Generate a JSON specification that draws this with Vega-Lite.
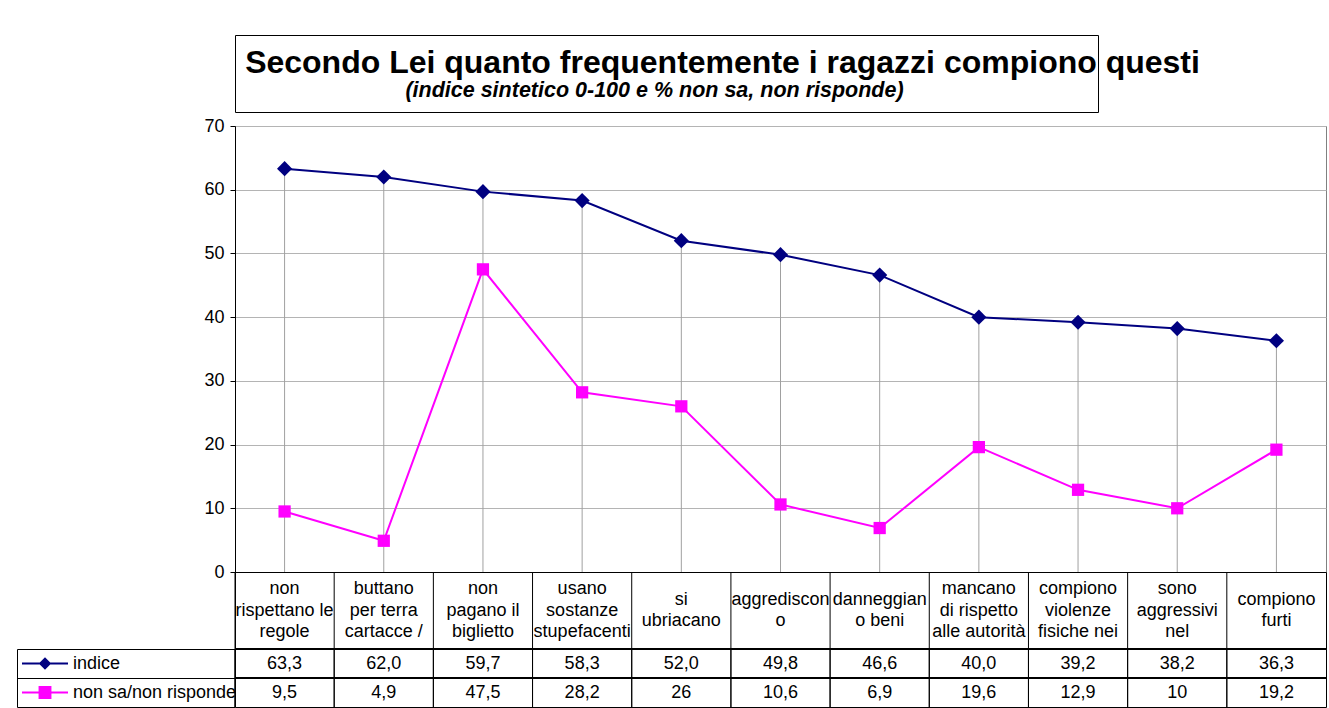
{
  "$schema": "https://vega.github.io/schema/vega-lite/v6.json",
  "padding": {"left": 16, "top": 34, "right": 2, "bottom": 1},
  "background": "white",
  "config": {
    "font": "Liberation Sans",
    "locale": {"number": {"decimal": ",", "thousands": ".", "grouping": [3], "currency": ["€", ""]}},
    "view": {"stroke": null},
    "axisY": {
      "domain": true, "domainColor": "black", "domainWidth": 1,
      "ticks": true, "tickColor": "black", "tickSize": 5,
      "labelFontSize": 18, "labelColor": "black", "labelFont": "Liberation Sans", "labelPadding": 6,
      "grid": true, "gridColor": "#b4b4b4", "title": null
    },
    "text": {"font": "Liberation Sans", "color": "black"}
  },
  "bounds": "flush",
  "spacing": 14,
  "vconcat": [
    {
      "width": 863,
      "height": 77,
      "view": {"stroke": "black", "strokeWidth": 1},
      "data": {"values": [
        {"kind": "title", "line": "Secondo Lei quanto frequentemente i ragazzi compiono questi"},
        {"kind": "subtitle", "line": "(indice sintetico 0-100 e % non sa, non risponde)"}
      ]},
      "layer": [
        {
          "transform": [{"filter": "datum.kind == 'title'"}],
          "mark": {"type": "text", "fontSize": 32, "fontWeight": "bold", "align": "center", "baseline": "middle", "dx": 56, "dy": -11},
          "encoding": {"text": {"field": "line", "type": "nominal"}}
        },
        {
          "transform": [{"filter": "datum.kind == 'subtitle'"}],
          "mark": {"type": "text", "fontSize": 21.5, "fontWeight": "bold", "fontStyle": "italic", "align": "center", "baseline": "middle", "dx": -12, "dy": 17},
          "encoding": {"text": {"field": "line", "type": "nominal"}}
        }
      ]
    },
    {
      "data": {"values": [
        {"cat": "non rispettano le regole", "lines": ["non", "rispettano le", "regole"], "indice": 63.3, "non sa/non risponde": 9.5},
        {"cat": "buttano per terra cartacce /", "lines": ["buttano", "per terra", "cartacce /"], "indice": 62.0, "non sa/non risponde": 4.9},
        {"cat": "non pagano il biglietto", "lines": ["non", "pagano il", "biglietto"], "indice": 59.7, "non sa/non risponde": 47.5},
        {"cat": "usano sostanze stupefacenti", "lines": ["usano", "sostanze", "stupefacenti"], "indice": 58.3, "non sa/non risponde": 28.2},
        {"cat": "si ubriacano", "lines": ["si", "ubriacano"], "indice": 52.0, "non sa/non risponde": 26},
        {"cat": "aggrediscono", "lines": ["aggrediscon", "o"], "indice": 49.8, "non sa/non risponde": 10.6},
        {"cat": "danneggiano beni", "lines": ["danneggian", "o beni"], "indice": 46.6, "non sa/non risponde": 6.9},
        {"cat": "mancano di rispetto alle autorità", "lines": ["mancano", "di rispetto", "alle autorità"], "indice": 40.0, "non sa/non risponde": 19.6},
        {"cat": "compiono violenze fisiche nei", "lines": ["compiono", "violenze", "fisiche nei"], "indice": 39.2, "non sa/non risponde": 12.9},
        {"cat": "sono aggressivi nel", "lines": ["sono", "aggressivi", "nel"], "indice": 38.2, "non sa/non risponde": 10},
        {"cat": "compiono furti", "lines": ["compiono", "furti"], "indice": 36.3, "non sa/non risponde": 19.2}
      ]},
      "bounds": "flush",
      "spacing": 0,
      "resolve": {
        "scale": {"color": "independent", "shape": "independent", "size": "independent", "x": "independent", "y": "independent"},
        "legend": {"color": "independent", "shape": "independent", "size": "independent"}
      },
      "vconcat": [
        {
          "width": 1091,
          "height": 446,
          "view": {"stroke": "#808080", "strokeWidth": 1},
          "layer": [
            {
              "mark": {"type": "rule", "color": "#a0a0a0", "strokeWidth": 1},
              "encoding": {
                "x": {"field": "cat", "type": "nominal", "sort": null, "scale": {"paddingInner": 0, "paddingOuter": 0}, "axis": null},
                "y": {"field": "indice", "type": "quantitative", "scale": {"domain": [0, 70]}, "axis": {"title": null, "tickCount": 7}},
                "y2": {"datum": 0}
              }
            },
            {
              "transform": [{"fold": ["indice", "non sa/non risponde"], "as": ["key", "value"]}],
              "mark": {"type": "line", "strokeWidth": 2},
              "encoding": {
                "x": {"field": "cat", "type": "nominal", "sort": null, "scale": {"paddingInner": 0, "paddingOuter": 0}, "axis": null},
                "y": {"field": "value", "type": "quantitative", "scale": {"domain": [0, 70]}, "axis": {"title": null, "tickCount": 7}},
                "color": {"field": "key", "type": "nominal", "scale": {"domain": ["indice", "non sa/non risponde"], "range": ["#000080", "#ff00ff"]}, "legend": null}
              }
            },
            {
              "transform": [{"fold": ["indice", "non sa/non risponde"], "as": ["key", "value"]}],
              "mark": {"type": "point", "filled": true, "opacity": 1},
              "encoding": {
                "x": {"field": "cat", "type": "nominal", "sort": null, "scale": {"paddingInner": 0, "paddingOuter": 0}, "axis": null},
                "y": {"field": "value", "type": "quantitative", "scale": {"domain": [0, 70]}, "axis": {"title": null, "tickCount": 7}},
                "color": {"field": "key", "type": "nominal", "scale": {"domain": ["indice", "non sa/non risponde"], "range": ["#000080", "#ff00ff"]}, "legend": null},
                "shape": {"field": "key", "type": "nominal", "scale": {"domain": ["indice", "non sa/non risponde"], "range": ["diamond", "square"]}, "legend": null},
                "size": {"field": "key", "type": "nominal", "scale": {"domain": ["indice", "non sa/non risponde"], "range": [230, 150]}, "legend": null}
              }
            }
          ]
        },
        {
          "width": 1091,
          "height": 77,
          "view": {"stroke": "black", "strokeWidth": 1},
          "layer": [
            {
              "mark": {"type": "rule", "color": "black", "strokeWidth": 1},
              "encoding": {
                "x": {"field": "cat", "type": "nominal", "sort": null, "bandPosition": 0, "scale": {"paddingInner": 0, "paddingOuter": 0}, "axis": null}
              }
            },
            {
              "transform": [{"filter": "length(datum.lines) == 3"}],
              "mark": {"type": "text", "fontSize": 18, "lineHeight": 21.5, "align": "center", "baseline": "middle", "dy": -21.5},
              "encoding": {
                "x": {"field": "cat", "type": "nominal", "sort": null, "scale": {"paddingInner": 0, "paddingOuter": 0}, "axis": null},
                "text": {"field": "lines", "type": "nominal"}
              }
            },
            {
              "transform": [{"filter": "length(datum.lines) == 2"}],
              "mark": {"type": "text", "fontSize": 18, "lineHeight": 21.5, "align": "center", "baseline": "middle", "dy": -10.75},
              "encoding": {
                "x": {"field": "cat", "type": "nominal", "sort": null, "scale": {"paddingInner": 0, "paddingOuter": 0}, "axis": null},
                "text": {"field": "lines", "type": "nominal"}
              }
            }
          ]
        },
        {
          "width": 1091,
          "height": 58,
          "view": {"stroke": "black", "strokeWidth": 1},
          "transform": [{"fold": ["indice", "non sa/non risponde"], "as": ["key", "value"]}],
          "layer": [
            {
              "mark": {"type": "rule", "color": "black", "strokeWidth": 1},
              "encoding": {
                "x": {"field": "cat", "type": "nominal", "sort": null, "bandPosition": 0, "scale": {"paddingInner": 0, "paddingOuter": 0}, "axis": null}
              }
            },
            {
              "mark": {"type": "rule", "color": "black", "strokeWidth": 1},
              "encoding": {
                "y": {"field": "key", "type": "nominal", "bandPosition": 0, "scale": {"domain": ["indice", "non sa/non risponde"], "paddingInner": 0, "paddingOuter": 0},
                  "axis": {"orient": "left", "offset": 218, "labels": false, "title": null, "grid": false, "domain": true, "domainColor": "black", "ticks": true, "tickBand": "extent", "tickSize": -218, "tickColor": "black"}}
              }
            },
            {
              "transform": [{"filter": "datum.key == 'indice'"}],
              "mark": {"type": "text", "fontSize": 18, "align": "center", "baseline": "middle"},
              "encoding": {
                "x": {"field": "cat", "type": "nominal", "sort": null, "scale": {"paddingInner": 0, "paddingOuter": 0}, "axis": null},
                "y": {"field": "key", "type": "nominal", "scale": {"domain": ["indice", "non sa/non risponde"], "paddingInner": 0, "paddingOuter": 0},
                  "axis": {"orient": "left", "offset": 218, "labels": false, "title": null, "grid": false, "domain": true, "domainColor": "black", "ticks": true, "tickBand": "extent", "tickSize": -218, "tickColor": "black"}},
                "text": {"field": "value", "type": "quantitative", "format": ".1f"}
              }
            },
            {
              "transform": [{"filter": "datum.key != 'indice'"}],
              "mark": {"type": "text", "fontSize": 18, "align": "center", "baseline": "middle"},
              "encoding": {
                "x": {"field": "cat", "type": "nominal", "sort": null, "scale": {"paddingInner": 0, "paddingOuter": 0}, "axis": null},
                "y": {"field": "key", "type": "nominal", "scale": {"domain": ["indice", "non sa/non risponde"], "paddingInner": 0, "paddingOuter": 0},
                  "axis": {"orient": "left", "offset": 218, "labels": false, "title": null, "grid": false, "domain": true, "domainColor": "black", "ticks": true, "tickBand": "extent", "tickSize": -218, "tickColor": "black"}},
                "text": {"field": "value", "type": "quantitative", "format": "~f"}
              }
            },
            {
              "mark": {"type": "point", "filled": true, "opacity": 0},
              "encoding": {
                "x": {"field": "cat", "type": "nominal", "sort": null, "scale": {"paddingInner": 0, "paddingOuter": 0}, "axis": null},
                "y": {"field": "key", "type": "nominal", "scale": {"domain": ["indice", "non sa/non risponde"], "paddingInner": 0, "paddingOuter": 0},
                  "axis": {"orient": "left", "offset": 218, "labels": false, "title": null, "grid": false, "domain": true, "domainColor": "black", "ticks": true, "tickBand": "extent", "tickSize": -218, "tickColor": "black"}},
                "color": {"field": "key", "type": "nominal", "scale": {"domain": ["indice", "non sa/non risponde"], "range": ["#000080", "#ff00ff"]},
                  "legend": {"orient": "left", "offset": -221, "title": null, "direction": "vertical", "symbolSize": 2116, "symbolStrokeWidth": 0, "symbolOpacity": 1, "labelFontSize": 18, "labelFont": "Liberation Sans", "labelColor": "black", "labelOffset": 5, "clipHeight": 29, "rowPadding": 0, "padding": 0, "symbolOffset": 0, "labelLimit": 300,
                    "encode": {"symbols": {"update": {"opacity": {"value": 1}}}}}},
                "shape": {"field": "key", "type": "nominal", "scale": {"domain": ["indice", "non sa/non risponde"], "range": ["M-1,-0.045H1V0.045H-1Z M0,-0.27L0.27,0L0,0.27L-0.27,0Z", "M-1,-0.045H1V0.045H-1Z M-0.28,-0.28H0.28V0.28H-0.28Z"]}}
              }
            }
          ]
        }
      ]
    }
  ]
}
